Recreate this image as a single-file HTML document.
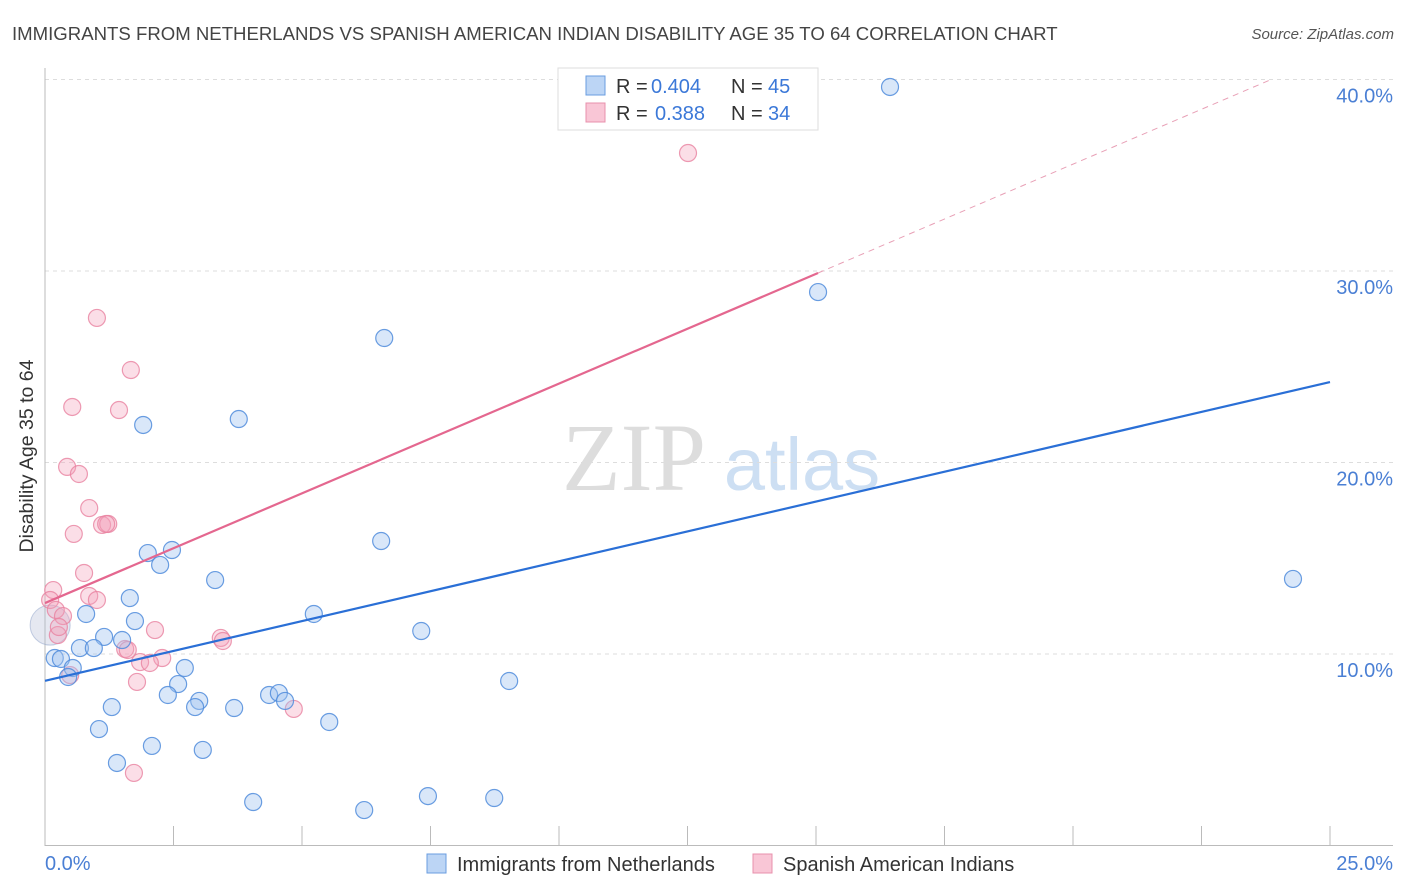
<!DOCTYPE html>
<html><head><meta charset="utf-8"><style>
body{margin:0;background:#fff;font-family:"Liberation Sans",sans-serif;}
svg{display:block}
</style></head><body>
<svg id="c" width="1406" height="892" xmlns="http://www.w3.org/2000/svg">
<text x="12" y="40" font-size="18.6" fill="#444">IMMIGRANTS FROM NETHERLANDS VS SPANISH AMERICAN INDIAN DISABILITY AGE 35 TO 64 CORRELATION CHART</text>
<text x="1394" y="39" font-size="15" fill="#555" font-style="italic" text-anchor="end">Source: ZipAtlas.com</text>
<g><text x="634" y="490" font-size="96" fill="#ddd" font-family="Liberation Serif,serif" text-anchor="middle">ZIP</text><text x="802" y="490" font-size="74" fill="#cddff3" text-anchor="middle">atlas</text></g>
<g id="grid"></g><g id="axes"></g><g id="marks"></g>
<text transform="translate(33,456) rotate(-90)" font-size="19.5" fill="#333" text-anchor="middle">Disability Age 35 to 64</text>
<text x="45" y="870" font-size="20" fill="#4a7fd4">0.0%</text>
<text x="1393" y="870" font-size="20" fill="#4a7fd4" text-anchor="end">25.0%</text>
<g font-size="20">
<rect x="558" y="68" width="260" height="62" fill="#fff" stroke="#ddd"/>
<rect x="586" y="76" width="19" height="19" fill="#bcd5f5" stroke="#6a9de0"/>
<rect x="586" y="103" width="19" height="19" fill="#f9c6d6" stroke="#e890ac"/>
<text x="616" y="93" fill="#333">R =</text><text x="651" y="93" fill="#3b78d8">0.404</text>
<text x="731" y="93" fill="#333">N =</text><text x="768" y="93" fill="#3b78d8">45</text>
<text x="616" y="120" fill="#333">R =</text><text x="655" y="120" fill="#3b78d8">0.388</text>
<text x="731" y="120" fill="#333">N =</text><text x="768" y="120" fill="#3b78d8">34</text>
</g>
<g>
<rect x="427" y="854" width="19" height="19" fill="#bcd5f5" stroke="#6a9de0"/>
<text x="457" y="871" font-size="20" fill="#333">Immigrants from Netherlands</text>
<rect x="753" y="854" width="19" height="19" fill="#f9c6d6" stroke="#e890ac"/>
<text x="783" y="871" font-size="20" fill="#333">Spanish American Indians</text>
</g>
</svg>
<script>
const yTicks=[10,20,30,40];
const yTickLabels=["10.0%","20.0%","30.0%","40.0%"];
const xTicks=[0,2.5,5,7.5,10,12.5,15,17.5,20,22.5,25];
const blueX=[16.44,15.04,6.60,3.77,1.91,6.54,24.28,2.47,2.00,2.24,3.31,1.65,0.80,5.23,1.75,7.32,1.15,1.50,0.68,0.95,0.19,0.31,0.54,2.72,0.45,9.03,2.59,2.39,4.36,4.55,3.00,2.92,4.67,1.30,3.68,5.53,1.05,2.08,3.07,1.40,4.05,7.45,8.74,6.21];
const blueY=[39.61,28.90,26.50,22.27,21.96,15.90,13.92,15.43,15.27,14.65,13.86,12.92,12.09,12.09,11.72,11.20,10.89,10.73,10.31,10.31,9.79,9.74,9.27,9.27,8.80,8.59,8.43,7.86,7.86,7.96,7.55,7.23,7.55,7.23,7.18,6.45,6.08,5.20,4.99,4.31,2.27,2.58,2.48,1.85];
const pinkX=[12.51,1.01,1.67,0.53,1.44,0.43,0.66,0.86,0.56,1.11,1.23,0.76,0.16,0.10,0.86,1.01,0.21,0.35,0.25,2.14,3.42,3.46,1.56,1.61,2.28,1.85,2.04,0.49,1.79,4.84,1.73,0.27,1.19];
const pinkY=[36.16,27.55,24.83,22.90,22.74,19.77,19.40,17.62,16.27,16.74,16.79,14.23,13.34,12.82,13.03,12.82,12.30,11.98,10.99,11.25,10.84,10.68,10.26,10.21,9.79,9.58,9.53,8.90,8.54,7.13,3.79,11.41,16.79];
const bigPoint=[0.10,11.51];
const blueLine=[8.6,0.624];
const pinkLine=[12.66,1.146];
const pinkSolidEnd=15.04;
const X=v=>45+v*51.4, Y=v=>845.5-v*19.15;
const NS="http://www.w3.org/2000/svg";
function mk(t,a,p){const e=document.createElementNS(NS,t);for(const k in a)e.setAttribute(k,a[k]);p.appendChild(e);return e;}
const grid=document.getElementById('grid'),axes=document.getElementById('axes'),marks=document.getElementById('marks');
yTicks.forEach((t,i)=>{
 const l=mk('line',{x1:45,x2:1393,y1:Y(t),y2:Y(t),stroke:'#ddd','stroke-dasharray':'4,4'},grid);
 
 
 const tx=mk('text',{x:1393,y:Y(t)+23,'font-size':20,fill:'#4a7fd4','text-anchor':'end'},axes);
 tx.textContent=yTickLabels[i];
 
 
});
const ax=mk('line',{x1:45,x2:45,y1:68,y2:846,stroke:'#bbb'},axes);


const bx=mk('line',{x1:45,x2:1393,y1:845.5,y2:845.5,stroke:'#bbb'},axes);


xTicks.forEach(t=>{const l=mk('line',{x1:X(t),x2:X(t),y1:826,y2:845,stroke:'#bbb'},axes);
 
 });
const bp=mk('circle',{cx:X(bigPoint[0]),cy:Y(bigPoint[1]),r:20,fill:'rgba(180,190,215,0.35)',stroke:'rgba(140,160,200,0.5)'},marks);


pinkX.forEach((x,i)=>{const c=mk('circle',{cx:X(x),cy:Y(pinkY[i]),r:8.5,fill:'rgba(244,160,185,0.35)',stroke:'rgba(232,130,160,0.8)','stroke-width':1.2},marks);
 
 });
blueX.forEach((x,i)=>{const c=mk('circle',{cx:X(x),cy:Y(blueY[i]),r:8.5,fill:'rgba(160,195,240,0.4)',stroke:'rgba(80,140,220,0.85)','stroke-width':1.2},marks);
 
 });
const bl=mk('line',{x1:X(0),y1:Y(blueLine[0]),x2:X(25),y2:Y(blueLine[0]+blueLine[1]*25),stroke:'#2a6fd6','stroke-width':2.2},marks);


const pl=mk('line',{x1:X(0),y1:Y(pinkLine[0]),x2:X(pinkSolidEnd),y2:Y(pinkLine[0]+pinkLine[1]*pinkSolidEnd),stroke:'#e4678f','stroke-width':2.2},marks);


const xe=(40-pinkLine[0])/pinkLine[1];
const pd=mk('line',{x1:X(pinkSolidEnd),y1:Y(pinkLine[0]+pinkLine[1]*pinkSolidEnd),x2:X(xe),y2:Y(40),stroke:'#e8a0b6','stroke-width':1,'stroke-dasharray':'6,5'},marks);


</script>
</body></html>
